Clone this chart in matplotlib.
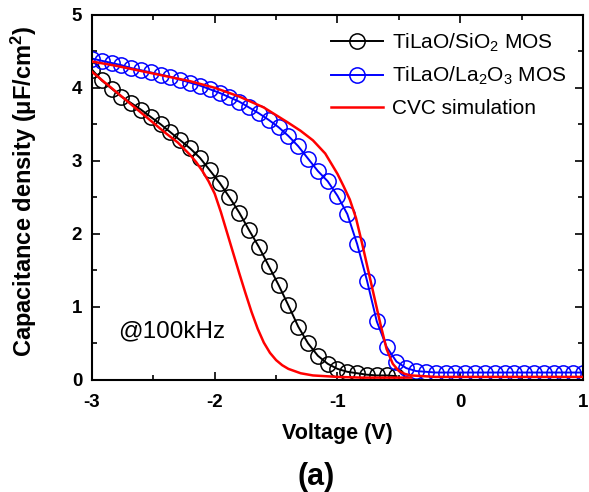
import matplotlib
matplotlib.use("Agg")
import matplotlib.pyplot as plt
from matplotlib.ticker import MultipleLocator

plt.rcParams['font.family'] = 'Liberation Sans'
plt.rcParams['mathtext.fontset'] = 'custom'
plt.rcParams['mathtext.rm'] = 'Liberation Sans'
plt.rcParams['mathtext.it'] = 'Liberation Sans:italic'
plt.rcParams['mathtext.bf'] = 'Liberation Sans:bold'
plt.rcParams['axes.unicode_minus'] = False

# measured C-V, 100 kHz
v_sio2 = [-3.00, -2.92, -2.84, -2.76, -2.68, -2.60, -2.52, -2.44, -2.36, -2.28,
          -2.20, -2.12, -2.04, -1.96, -1.88, -1.80, -1.72, -1.64, -1.56, -1.48,
          -1.40, -1.32, -1.24, -1.16, -1.08, -1.00, -0.92, -0.84, -0.76, -0.68,
          -0.60, -0.52]
c_sio2 = [4.25, 4.10, 3.99, 3.88, 3.79, 3.70, 3.60, 3.50, 3.39, 3.28,
          3.17, 3.04, 2.87, 2.70, 2.50, 2.29, 2.05, 1.82, 1.56, 1.30,
          1.02, 0.73, 0.50, 0.33, 0.22, 0.15, 0.11, 0.09, 0.07, 0.06,
          0.06, 0.05]

v_la2o3 = [-3.00, -2.92, -2.84, -2.76, -2.68, -2.60, -2.52, -2.44, -2.36, -2.28,
           -2.20, -2.12, -2.04, -1.96, -1.88, -1.80, -1.72, -1.64, -1.56, -1.48,
           -1.40, -1.32, -1.24, -1.16, -1.08, -1.00, -0.92, -0.84, -0.76, -0.68,
           -0.60, -0.52, -0.44, -0.36, -0.28, -0.20, -0.12, -0.04, 0.04, 0.12,
           0.20, 0.28, 0.36, 0.44, 0.52, 0.60, 0.68, 0.76, 0.84, 0.92, 1.00]
c_la2o3 = [4.40, 4.37, 4.34, 4.31, 4.27, 4.24, 4.21, 4.18, 4.15, 4.11,
           4.07, 4.03, 3.98, 3.93, 3.87, 3.81, 3.73, 3.65, 3.56, 3.46,
           3.34, 3.20, 3.03, 2.86, 2.72, 2.52, 2.27, 1.86, 1.36, 0.80,
           0.45, 0.25, 0.16, 0.12, 0.11, 0.10, 0.10, 0.10, 0.10, 0.10,
           0.10, 0.10, 0.10, 0.10, 0.10, 0.10, 0.10, 0.10, 0.10, 0.10, 0.10]

# CVC simulation
v_sim1 = [-3.0, -2.9, -2.8, -2.7, -2.6, -2.5, -2.4, -2.3, -2.2, -2.15, -2.1,
          -2.05, -2.0, -1.95, -1.9, -1.85, -1.8, -1.75, -1.7, -1.65, -1.6,
          -1.55, -1.5, -1.45, -1.4, -1.3, -1.2, -1.1, -1.0, -0.8, -0.6, -0.4]
c_sim1 = [4.22, 4.08, 3.94, 3.80, 3.66, 3.52, 3.38, 3.25, 3.08, 2.98, 2.86,
          2.72, 2.55, 2.30, 2.02, 1.74, 1.46, 1.19, 0.93, 0.70, 0.51,
          0.37, 0.27, 0.20, 0.15, 0.09, 0.06, 0.05, 0.04, 0.03, 0.03, 0.03]

v_sim2 = [-3.0, -2.8, -2.6, -2.4, -2.2, -2.0, -1.8, -1.6, -1.4, -1.3, -1.2,
          -1.1, -1.0, -0.95, -0.9, -0.85, -0.8, -0.75, -0.7, -0.65, -0.6,
          -0.55, -0.5, -0.45, -0.4, -0.3, -0.2, 0.0, 0.5, 1.0]
c_sim2 = [4.36, 4.30, 4.23, 4.16, 4.09, 4.00, 3.88, 3.73, 3.52, 3.41, 3.28,
          3.10, 2.82, 2.65, 2.47, 2.22, 1.87, 1.50, 1.13, 0.76, 0.42,
          0.22, 0.12, 0.08, 0.06, 0.05, 0.04, 0.04, 0.04, 0.04]

fig = plt.figure(figsize=(5.89, 4.92), dpi=100)
ax = fig.add_axes([0.156, 0.228, 0.834, 0.742])

ax.plot(v_sim1, c_sim1, color='red', lw=1.8, zorder=3)
ax.plot(v_sio2, c_sio2, color='black', lw=1.4, marker='o', ms=11,
        mfc='none', mew=1.1, label='TiLaO/SiO$_2$ MOS', zorder=2)
ax.plot(v_la2o3, c_la2o3, color='blue', lw=1.4, marker='o', ms=11,
        mfc='none', mew=1.1, label='TiLaO/La$_2$O$_3$ MOS', zorder=2)
ax.plot(v_sim2, c_sim2, color='red', lw=1.8, label='CVC simulation', zorder=3)

ax.set_xlim(-3, 1)
ax.set_ylim(0, 5)
ax.xaxis.set_major_locator(MultipleLocator(1))
ax.xaxis.set_minor_locator(MultipleLocator(0.5))
ax.yaxis.set_major_locator(MultipleLocator(1))
ax.yaxis.set_minor_locator(MultipleLocator(0.5))
ax.tick_params(which='both', direction='in', top=True, right=True, width=1.2)
ax.tick_params(which='major', length=6, labelsize=13.5)
ax.tick_params(axis='x', which='major', pad=10)
ax.tick_params(axis='y', which='major', pad=7)
ax.tick_params(which='minor', length=3.5)
for lbl in ax.get_xticklabels() + ax.get_yticklabels():
    lbl.set_fontweight('bold')
for sp in ax.spines.values():
    sp.set_linewidth(1.5)

ax.set_xlabel('Voltage (V)', fontsize=15.5, fontweight='bold', labelpad=9)
ax.set_ylabel('Capacitance density (μF/cm$^\\mathbf{2}$)', fontsize=17,
              fontweight='bold')
ax.yaxis.set_label_coords(-0.108, 0.515)

ax.text(-2.79, 0.66, '@100kHz', fontsize=17.5, va='center')
fig.text(316 / 589, 1 - 477 / 492, '(a)', fontsize=22, fontweight='bold',
         ha='center', va='center')

ax.legend(loc='upper right', frameon=False, fontsize=15, numpoints=1,
          handlelength=2.5, labelspacing=0.55, borderaxespad=0.5,
          handletextpad=0.45, borderpad=0.3)

fig.savefig('out.png', dpi=100)
